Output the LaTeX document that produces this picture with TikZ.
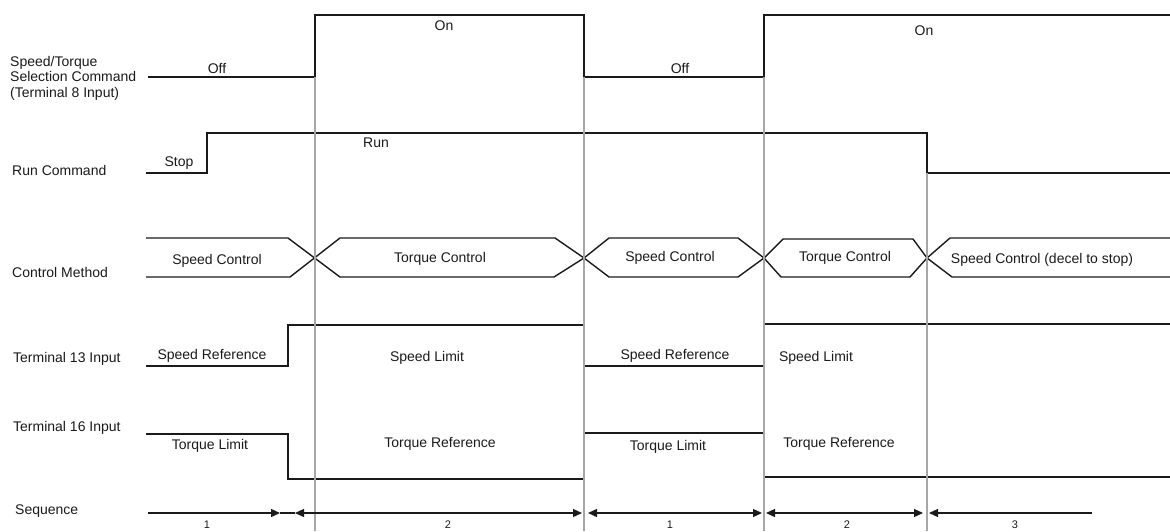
\documentclass[tikz,border=0pt]{standalone}
\usepackage{fontspec}
\setmainfont{Liberation Sans}
\usetikzlibrary{arrows.meta}
\definecolor{TraceInk}{HTML}{1A1A1A}
\definecolor{GridGray}{HTML}{A6A6A6}
\newcommand{\SigFont}{\fontsize{14pt}{15.5pt}\selectfont}
\tikzset{
  trace/.style={TraceInk, line width=1.4pt, line join=miter},
  marker/.style={GridGray, line width=1.3pt},
  siglabel/.style={text=TraceInk, font=\SigFont, inner sep=0pt},
  rowlabel/.style={siglabel, anchor=west, align=left},
  seqline/.style={TraceInk, line width=1.3pt},
  seqtip/.tip={Triangle[length=9pt,width=8pt]},
}

\begin{document}
\begin{tikzpicture}[x=1pt,y=-1pt]
  \useasboundingbox (0,0) rectangle (1170,531);
  % row titles on the left
  \node[rowlabel] (selcmd) at (10,78) {Speed/Torque\\Selection Command\\(Terminal 8 Input)};
  \node[rowlabel] (runcmd) at (12,170) {Run Command};
  \node[rowlabel] (ctrlmeth) at (12,272) {Control Method};
  \node[rowlabel] (term13) at (13,359) {Terminal 13 Input};
  \node[rowlabel] (term16) at (13,428) {Terminal 16 Input};
  \node[rowlabel] (seqlbl) at (15,511) {Sequence};
  % signal traces
  \draw[trace] (148,77) -- (315,77) -- (315,15) -- (584,15) -- (584,77) -- (764,77) -- (764,15) -- (1170,15);
  \draw[trace] (146,173) -- (207,173) -- (207,133) -- (927,133) -- (927,173) -- (1170,173);
  \draw[trace] (146,238) -- (288,238) -- (340,277) -- (554,277) -- (584,258) -- (609,277) -- (738,277)
    -- (764,258) -- (781,277) -- (910,277) -- (927,258) -- (950,238) -- (1170,238);
  \draw[trace] (146,277) -- (290,277) -- (340,238) -- (555,238) -- (584,258) -- (609,238) -- (738,238)
    -- (764,258) -- (783,239) -- (913,239) -- (927,258) -- (952,277) -- (1170,277);
  \draw[trace] (146,366) -- (288,366) -- (288,325) -- (584,325) -- (584,366) -- (764,366) -- (764,324) -- (1170,324);
  \draw[trace] (146,434) -- (288,434) -- (288,479) -- (584,479) -- (584,433) -- (764,433) -- (764,477) -- (1170,477);
  % time markers
  \foreach \x/\y in {315/77, 584/77, 764/77, 927/173}
    \draw[marker] (\x,\y) -- (\x,531);
  % state labels
  \node[siglabel] (off1) at (217,68) {Off};
  \node[siglabel] (on1) at (444,26) {On};
  \node[siglabel] (off2) at (680,68) {Off};
  \node[siglabel] (on2) at (924,31) {On};
  \node[siglabel] (stop) at (179,163) {Stop};
  \node[siglabel] (run) at (376,143) {Run};
  \node[siglabel] (spdctl1) at (217,261) {Speed Control};
  \node[siglabel] (trqctl1) at (440,259) {Torque Control};
  \node[siglabel] (spdctl2) at (670,258) {Speed Control};
  \node[siglabel] (trqctl2) at (845,258) {Torque Control};
  \node[siglabel] (spdctl3) at (1042,260) {Speed Control (decel to stop)};
  \node[siglabel] (spdref1) at (212,356) {Speed Reference};
  \node[siglabel] (spdlim1) at (427,358) {Speed Limit};
  \node[siglabel] (spdref2) at (675,356) {Speed Reference};
  \node[siglabel] (spdlim2) at (816,358) {Speed Limit};
  \node[siglabel] (trqlim1) at (210,446) {Torque Limit};
  \node[siglabel] (trqref1) at (440,444) {Torque Reference};
  \node[siglabel] (trqlim2) at (668,447) {Torque Limit};
  \node[siglabel] (trqref2) at (839,444) {Torque Reference};
  % sequence arrows
  \coordinate (q0) at (148,513);
  \coordinate (q1) at (280,513);
  \coordinate (q2) at (295,513);
  \coordinate (q3) at (582,513);
  \coordinate (q4) at (588,513);
  \coordinate (q5) at (762,513);
  \coordinate (q6) at (766,513);
  \coordinate (q7) at (923,513);
  \coordinate (q8) at (929,513);
  \coordinate (q9) at (1092,513);
  \draw[seqline, -seqtip] (q0) -- (q1);
  \draw[seqline] (q1) -- (q2);
  \draw[seqline, seqtip-seqtip] (q2) -- (q3);
  \draw[seqline, seqtip-seqtip] (q4) -- (q5);
  \draw[seqline, seqtip-seqtip] (q6) -- (q7);
  \draw[seqline, seqtip-] (q8) -- (q9);
  \foreach \x/\n in {207/1, 448/2, 670/1, 847/2, 1015/3}
    \node[siglabel, font=\fontsize{11pt}{12pt}\selectfont] (seq\x) at (\x,524.5) {\n};
\end{tikzpicture}
\end{document}
